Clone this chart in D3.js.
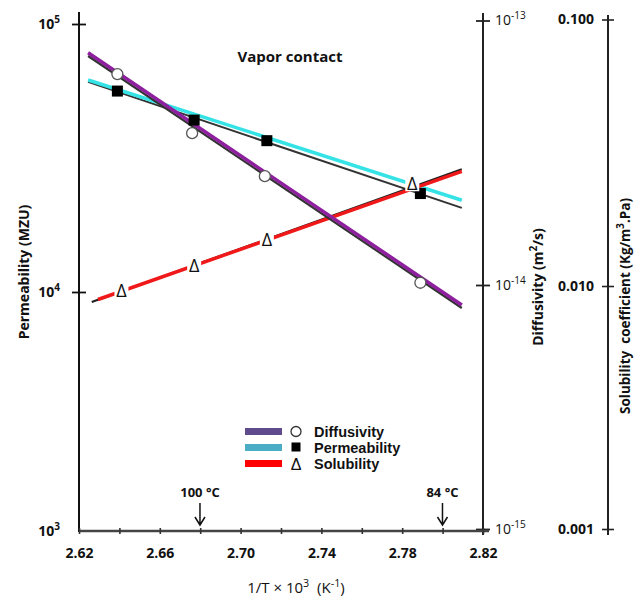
<!DOCTYPE html>
<html>
<head>
<meta charset="utf-8">
<script src="https://cdn.jsdelivr.net/npm/d3@7"></script>
<style>
  body { margin: 0; background: #fff; }
  svg text { font-family: "Open Sans", sans-serif; }
</style>
</head>
<body>
<div id="chart"></div>
<script>
// measured points, x is 1/T x 10^3 (K^-1)
const diffX = [2.639, 2.676, 2.712, 2.789];
const diffY = [6.27e-14, 3.75e-14, 2.58e-14, 1.02e-14];      // m2/s
const permX = [2.639, 2.677, 2.713, 2.789];
const permY = [5.62e4, 4.38e4, 3.67e4, 2.33e4];               // MZU
const solX = [2.641, 2.677, 2.713, 2.785];
const solY = [9.63e-3, 1.20e-2, 1.50e-2, 2.43e-2];            // Kg/m3.Pa

// the straight lines (start / end)
const fitX = [2.6245, 2.8095];
const diffLine = [7.55e-14, 8.28e-15];
const diffLineDark = [7.34e-14, 8.05e-15];
const permLine = [6.18e4, 2.20e4];
const permLineDark = [6.08e4, 2.06e4];
const solLineX = [2.6294, 2.8095];
const solLine = [8.80e-3, 2.69e-2];
const solDarkX = [2.6263, 2.8095];
const solLineDark = [8.59e-3, 2.74e-2];

// ticks
const xTicks = [2.62, 2.64, 2.66, 2.68, 2.70, 2.72, 2.74, 2.76, 2.78, 2.80, 2.82];
const permTicks = [1e3, 1e4, 1e5];
const diffTicks = [1e-15, 1e-14, 1e-13];
const solTicks = [0.001, 0.01, 0.1];

// temperature marks
const tempC = [100, 84];

// legend
const legendNames = ["Diffusivity", "Permeability", "Solubility"];
const legendColors = ["#5f4a8b", "#4bacc6", "#ff0000"];

const W = 635, H = 598;
const svg = d3.select("#chart").append("svg")
  .attr("width", W).attr("height", H);

const x = d3.scaleLinear().domain([2.62, 2.82]).range([79, 483]);
// the printed axes are not quite uniform per decade, so piecewise log scales
const yPerm = d3.scaleLog().domain([1e3, 1e4, 1e5]).range([531, 292, 24]);
const yDiff = d3.scaleLog().domain([1e-15, 1e-14, 1e-13]).range([529, 285, 20.5]);
const ySol = d3.scaleLog().domain([0.001, 0.01, 0.1]).range([529, 286, 19.5]);

function sup(t, base, s, after) {
  t.text(null);
  t.append("tspan").text(base);
  t.append("tspan").attr("dy", -6).attr("font-size", "0.72em").text(s);
  if (after) t.append("tspan").attr("dy", 6).text(after);
}

function styleTicks(g, weight) {
  g.attr("font-size", 14).attr("font-weight", weight);
  g.select(".domain").remove();
  g.selectAll(".tick text").attr("fill", "#111");
}

// ---- axes lines
svg.append("line").attr("x1", 79).attr("x2", 79).attr("y1", 12).attr("y2", 532)
  .attr("stroke", "#111").attr("stroke-width", 2);
svg.append("line").attr("x1", 483).attr("x2", 483).attr("y1", 13).attr("y2", 535)
  .attr("stroke", "#222").attr("stroke-width", 2);
svg.append("line").attr("x1", 608).attr("x2", 608).attr("y1", 15).attr("y2", 535)
  .attr("stroke", "#222").attr("stroke-width", 2);

// left axis
const gL = svg.append("g").attr("transform", "translate(79,0)")
  .call(d3.axisLeft(yPerm).tickValues(permTicks).tickSize(7).tickPadding(12).tickFormat(""));
styleTicks(gL, "bold");
gL.selectAll(".tick line").attr("x1", 7).attr("x2", -7).attr("stroke", "#111").attr("stroke-width", 1.8)
  .attr("opacity", d => d === 1e3 ? 0 : 1);
gL.selectAll(".tick text")
  .each(function(d) { sup(d3.select(this), "10", String(Math.round(Math.log10(d)))); });

// diffusivity axis
const gD = svg.append("g").attr("transform", "translate(483,0)")
  .call(d3.axisRight(yDiff).tickValues(diffTicks).tickSize(7).tickPadding(5).tickFormat(""));
styleTicks(gD, "normal");
gD.selectAll(".tick line").attr("x1", -7).attr("x2", 7).attr("stroke", "#222").attr("stroke-width", 1.8);
gD.selectAll(".tick text")
  .each(function(d) { sup(d3.select(this), "10", "-" + String(-Math.round(Math.log10(d)))); });

// solubility axis
const gS = svg.append("g").attr("transform", "translate(608,0)")
  .call(d3.axisLeft(ySol).tickValues(solTicks).tickSize(6).tickPadding(8).tickFormat(d3.format(".3f")));
styleTicks(gS, "bold");
gS.selectAll(".tick line").attr("x1", 6).attr("x2", -6).attr("stroke", "#222").attr("stroke-width", 1.6);

// bottom axis
svg.append("line").attr("x1", 79).attr("x2", 489).attr("y1", 531).attr("y2", 531)
  .attr("stroke", "#444").attr("stroke-width", 2.6);
const gB = svg.append("g").attr("transform", "translate(0,531)")
  .call(d3.axisBottom(x).tickValues(xTicks).tickSize(3).tickPadding(14)
    .tickFormat((d, i) => i % 2 === 0 ? d3.format(".2f")(d) : ""));
styleTicks(gB, "bold");
gB.selectAll(".tick line").attr("y1", -3).attr("y2", 3).attr("stroke", "#333").attr("stroke-width", 1.6);

// ---- titles
svg.append("text").attr("x", 290).attr("y", 62).attr("text-anchor", "middle")
  .attr("font-size", 15).attr("font-weight", "bold").attr("fill", "#111").text("Vapor contact");

svg.append("text").attr("transform", "translate(29,272) rotate(-90)").attr("text-anchor", "middle")
  .attr("font-size", 14).attr("font-weight", "bold").attr("fill", "#111").text("Permeability (MZU)");

const dt = svg.append("text").attr("transform", "translate(543,287) rotate(-90)").attr("text-anchor", "middle")
  .attr("font-size", 14).attr("font-weight", "bold").attr("fill", "#111");
sup(dt, "Diffusivity (m", "2", "/s)");

const st = svg.append("text").attr("transform", "translate(630,306) rotate(-90)").attr("text-anchor", "middle")
  .attr("font-size", 13.5).attr("font-weight", "bold").attr("fill", "#111").style("white-space", "pre");
sup(st, "Solubility  coefficient (Kg/m", "3", ".Pa)");

const xt = svg.append("text").attr("x", 296).attr("y", 593).attr("text-anchor", "middle")
  .attr("font-size", 15).attr("fill", "#111").style("white-space", "pre");
xt.append("tspan").text("1/T \u00d7 10");
xt.append("tspan").attr("dy", -6).attr("font-size", "0.72em").text("3");
xt.append("tspan").attr("dy", 6).text("  (K");
xt.append("tspan").attr("dy", -6).attr("font-size", "0.72em").text("-1");
xt.append("tspan").attr("dy", 6).text(")");

// ---- temperature arrows
const tg = svg.append("g").selectAll("g").data(tempC).join("g")
  .attr("transform", d => `translate(${x(1000 / (d + 273.15))},0)`);
tg.append("text").attr("y", 497).attr("text-anchor", "middle").attr("font-size", 13)
  .attr("font-weight", "bold").attr("fill", "#111").text(d => d + " \u00b0C");
tg.append("path").attr("d", "M0,503 L0,525 M-5,517 L0,525 L5,517")
  .attr("fill", "none").attr("stroke", "#111").attr("stroke-width", 1.5);

// ---- lines
function seg(xs, ys, scale, color, w) {
  const line = d3.line().x(d => x(d[0])).y(d => scale(d[1]));
  svg.append("path").datum(d3.zip(xs, ys)).attr("d", line)
    .attr("fill", "none").attr("stroke", color).attr("stroke-width", w);
}
seg(fitX, permLineDark, yPerm, "#333", 2);
seg(fitX, permLine, yPerm, "#35e3e6", 3.5);
seg(solDarkX, solLineDark, ySol, "#222", 2.2);
seg(solLineX, solLine, ySol, "#f01818", 3.5);
seg(fitX, diffLineDark, yDiff, "#333", 2.2);
seg(fitX, diffLine, yDiff, "#8e1f9e", 3.5);

// ---- markers
svg.append("g").selectAll("circle").data(d3.zip(diffX, diffY)).join("circle")
  .attr("cx", d => x(d[0])).attr("cy", d => yDiff(d[1])).attr("r", 5.5)
  .attr("fill", "#fff").attr("stroke", "#555").attr("stroke-width", 1.3);

svg.append("g").selectAll("rect").data(d3.zip(permX, permY)).join("rect")
  .attr("x", d => x(d[0]) - 5.5).attr("y", d => yPerm(d[1]) - 5.5)
  .attr("width", 11).attr("height", 11).attr("fill", "#000");

const tri = svg.append("g").selectAll("g").data(d3.zip(solX, solY)).join("g")
  .attr("transform", d => `translate(${x(d[0])},${ySol(d[1])})`);
tri.append("rect").attr("x", -7).attr("y", -8).attr("width", 14).attr("height", 16).attr("fill", "#fff");
tri.append("text").attr("text-anchor", "middle").attr("y", 7).attr("font-size", 18)
  .attr("fill", "#111").text("\u0394");

// ---- legend
const lg = svg.append("g").selectAll("g").data(legendNames).join("g")
  .attr("transform", (d, i) => `translate(245,${431.5 + i * 16})`);
lg.append("rect").attr("x", 0).attr("y", -3.5).attr("width", 37).attr("height", 7)
  .attr("fill", (d, i) => legendColors[i]);
lg.each(function(d, i) {
  const g = d3.select(this);
  if (i === 0) g.append("circle").attr("cx", 51).attr("cy", 0).attr("r", 5)
    .attr("fill", "#fff").attr("stroke", "#333").attr("stroke-width", 1.3);
  if (i === 1) g.append("rect").attr("x", 46.5).attr("y", -5).attr("width", 9).attr("height", 9).attr("fill", "#000");
  if (i === 2) g.append("text").attr("x", 51).attr("y", 6).attr("text-anchor", "middle")
    .style("font-family", '"Liberation Sans", sans-serif')
    .attr("font-size", 16).attr("fill", "#111").text("\u0394");
});
lg.append("text").attr("x", 69).attr("y", 5).attr("font-size", 14.5).attr("font-weight", "bold")
  .style("font-family", '"Liberation Sans", sans-serif')
  .attr("fill", "#111").text(d => d);
</script>
</body>
</html>
